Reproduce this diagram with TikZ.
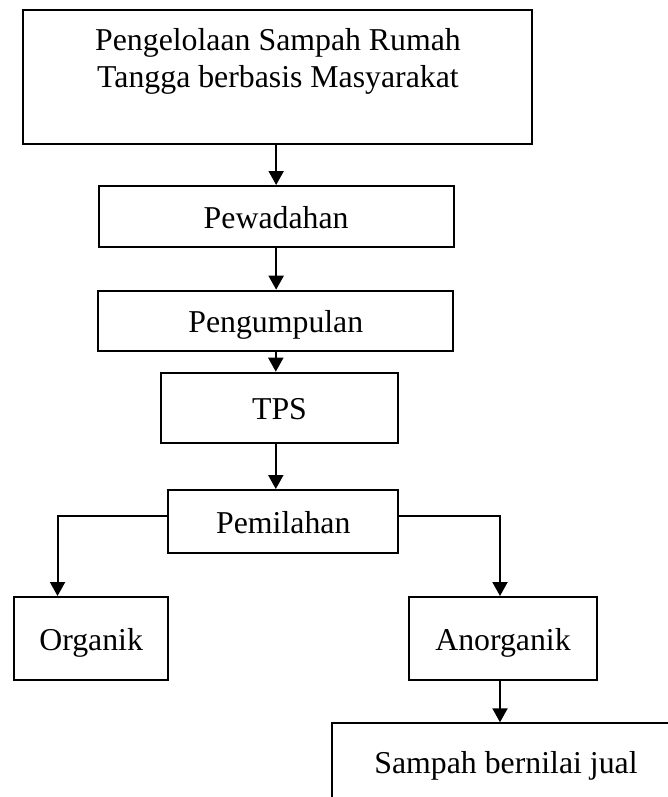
\documentclass[tikz,border=0pt]{standalone}
\usepackage{fontspec}
\setmainfont{Liberation Serif}
\usetikzlibrary{arrows.meta}
\begin{document}
\begin{tikzpicture}[x=1pt,y=-1pt,
  box/.style={draw, line width=2pt, rectangle, inner sep=0pt,
    font=\fontsize{31.8pt}{37pt}\selectfont, text height=30pt, text depth=6.6pt},
  txt/.style={inner sep=0pt, align=center, font=\fontsize{31.8pt}{37pt}\selectfont},
  arr/.style={line width=2pt, -{Triangle[width=15pt,length=14pt]}},
  conn/.style={line width=2pt}]
\useasboundingbox (0,0) rectangle (668,797);
\clip (0,0) rectangle (668,797);
\node[box, minimum width=508.3pt, minimum height=134.3pt] (top) at (277.55,77.15) {};
\node[txt] (toptext) at (278,61.2) {Pengelolaan Sampah Rumah\\Tangga berbasis Masyarakat};
\node[box, minimum width=354.7pt, minimum height=60.7pt] (pew) at (276.15,216.35) {Pewadahan};
\node[box, minimum width=355pt, minimum height=60pt] (pgm) at (275.8,320.7) {Pengumpulan};
\node[box, minimum width=237.6pt, minimum height=69.8pt] (tps) at (279.5,407.6) {TPS};
\node[box, minimum width=230pt, minimum height=62.7pt] (pml) at (283.3,521.35) {Pemilahan};
\node[box, minimum width=154.3pt, minimum height=83pt] (org) at (91.15,638.5) {Organik};
\node[box, minimum width=187.4pt, minimum height=83pt] (anorg) at (503,638.5) {Anorganik};
\node[box, minimum width=347.4pt, minimum height=76.7pt] (sj) at (506,761.65) {Sampah bernilai jual};
\draw[arr] (top.south -| pew.north) -- (pew.north);
\draw[arr] (pew.south) -- (pew.south |- pgm.north);
\draw[arr] (pgm.south) -- (pgm.south |- tps.north);
\draw[arr] (tps.south -| pgm.south) -- (pgm.south |- pml.north);
\draw[arr] ([yshift=5.6pt]pml.west) -| ([xshift=-33.6pt]org.north);
\draw[arr] ([yshift=5.6pt]pml.east) -| ([xshift=-3pt]anorg.north);
\draw[arr] ([xshift=-3pt]anorg.south) -- ([xshift=-3pt]anorg.south |- sj.north);
\end{tikzpicture}
\end{document}
